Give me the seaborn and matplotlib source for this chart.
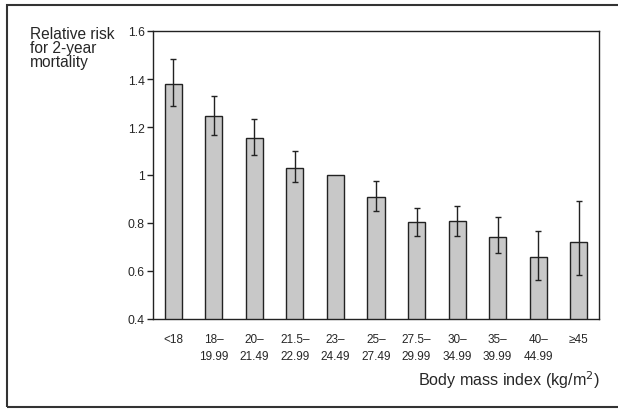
import numpy as np
import pandas as pd
import matplotlib
matplotlib.use("Agg")
import matplotlib.pyplot as plt
import matplotlib.patches as mpatches
import seaborn as sns

categories = ["<18", "18–\n19.99", "20–\n21.49", "21.5–\n22.99", "23–\n24.49",
              "25–\n27.49", "27.5–\n29.99", "30–\n34.99", "35–\n39.99",
              "40–\n44.99", "≥45"]
relative_risk = [1.38, 1.247, 1.155, 1.030, 1.0, 0.910, 0.803, 0.807, 0.743, 0.657, 0.722]
ci_lower = [1.288, 1.168, 1.082, 0.970, np.nan, 0.851, 0.747, 0.747, 0.675, 0.563, 0.585]
ci_upper = [1.483, 1.328, 1.232, 1.101, np.nan, 0.975, 0.862, 0.869, 0.824, 0.767, 0.890]
y_ticks = [0.4, 0.6, 0.8, 1.0, 1.2, 1.4, 1.6]
y_tick_labels = ["0.4", "0.6", "0.8", "1", "1.2", "1.4", "1.6"]

sns.set_style("white")
plt.rcParams["font.family"] = ["Liberation Sans", "DejaVu Sans"]

fig = plt.figure(figsize=(6.18, 4.10), dpi=100)
ax = fig.add_axes([153/618, 1-320/410, (599-153)/618, (320-32)/410])

df = pd.DataFrame({"bmi": categories, "rr": relative_risk})
sns.barplot(data=df, x="bmi", y="rr", color="#c8c8c8", saturation=1,
            edgecolor="#222222", linewidth=1.0, width=0.42, ax=ax, errorbar=None)

rr = np.array(relative_risk)
lo = np.array(ci_lower)
hi = np.array(ci_upper)
xpos = np.arange(len(categories))
mask = ~np.isnan(lo)
ax.errorbar(xpos[mask], rr[mask], yerr=[rr[mask]-lo[mask], hi[mask]-rr[mask]],
            fmt="none", ecolor="#222222", elinewidth=1.0, capsize=2.2, capthick=1.0)

ax.set_ylim(0.4, 1.6)
ax.set_xlim(-0.5, len(categories)-0.5)
ax.set_yticks(y_ticks)
ax.set_yticklabels(y_tick_labels, fontsize=8.8)
ax.set_xticks(np.arange(len(categories)+1)-0.5)
ax.set_xticklabels([])
ax.set_xticks(xpos, minor=True)
ax.set_xticklabels(categories, minor=True, fontsize=8.5, linespacing=1.55, va="top")
ax.tick_params(axis="x", which="major", direction="out", length=4, width=1, color="#222222")
ax.tick_params(axis="x", which="minor", length=0, pad=10)
ax.tick_params(axis="y", direction="out", length=4, width=1, color="#222222", pad=2, left=True)
ax.set_xlabel("")
ax.set_ylabel("")
for s in ax.spines.values():
    s.set_visible(True)
    s.set_color("#222222")
    s.set_linewidth(1.0)

fig.text(30/618, 1-27/410, "Relative risk\nfor 2-year\nmortality", fontsize=11.2,
         ha="left", va="top", linespacing=0.92)
fig.text(600/618, 1-386/410, "Body mass index (kg/m$^2$)", fontsize=11.6,
         ha="right", va="baseline")

frame = mpatches.Rectangle((7/618, 2/410), 1.2, (404-2)/410, transform=fig.transFigure,
                           fill=False, edgecolor="#333333", linewidth=1.5, clip_on=False)
fig.patches.append(frame)

fig.savefig("out.png", dpi=100)
